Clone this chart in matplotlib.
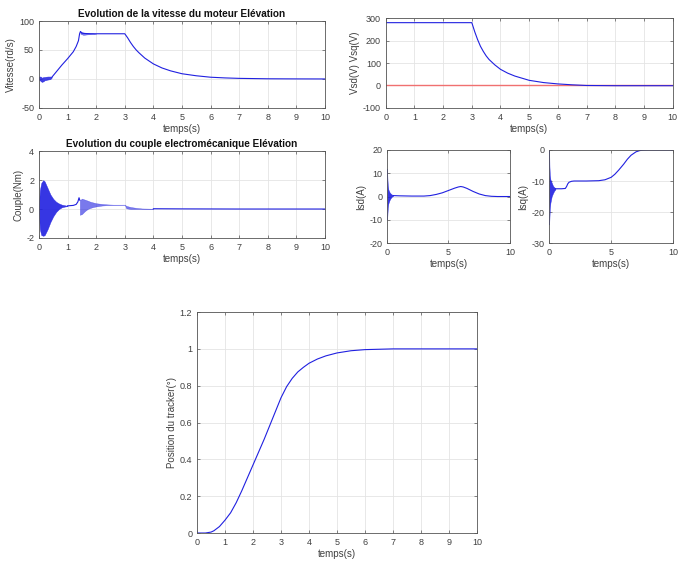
import matplotlib
matplotlib.use("Agg")
import matplotlib.pyplot as plt
import numpy as np

plt.rcParams['font.family'] = ['Liberation Sans', 'DejaVu Sans']
plt.rcParams['axes.unicode_minus'] = False

# ---------------- data ----------------
# Vitesse (rd/s)
vit_t = [0.45, 0.6, 0.8, 1.0, 1.2, 1.3, 1.38, 1.42, 1.45, 1.5, 1.6, 1.8, 2.0, 2.5, 3.0,
         3.1, 3.2, 3.3, 3.4, 3.5, 3.7, 4.0, 4.3, 4.6, 5.0, 5.5, 6.0, 6.5, 7.0, 8.0, 9.0, 10.0]
vit_v = [3, 12, 24, 35, 47, 56, 66, 78, 82, 79, 78.5, 78, 78, 78, 78,
         71, 63, 56, 50, 45, 36, 26, 19, 14, 9, 5.5, 3, 1.8, 1.0, 0.3, 0.1, 0.0]
vit_osc_t = [0.0, 0.05, 0.1, 0.15, 0.2, 0.3, 0.4, 0.45]
vit_osc_hi = [4, 4, 2, 3, 3, 4, 4, 3]
vit_osc_lo = [-1, -3, -5, -4, -2, -1, 0, 3]
vit_osc2_t = [1.45, 1.55, 1.7, 1.85, 2.0]
vit_osc2_hi = [82, 80, 79.5, 79, 78]
vit_osc2_lo = [78, 76, 77, 77.5, 78]

# Vsd / Vsq (V)
vsq_t = [0, 3.0, 3.1, 3.2, 3.3, 3.4, 3.5, 3.6, 3.8, 4.0, 4.25, 4.5, 5.0, 5.5, 6.0, 6.5, 7.0, 8.0, 10.0]
vsq_v = [280, 280, 240, 205, 175, 152, 132, 116, 92, 72, 55, 42, 23, 13, 7, 3, 0, -1, -1]
vsd_t = [0, 10]
vsd_v = [0, 0]

# Couple (Nm)
cp_env_t = [0.0, 0.03, 0.08, 0.15, 0.2, 0.3, 0.4, 0.5, 0.6, 0.7, 0.8, 0.9, 1.0]
cp_env_hi = [0.2, 1.3, 1.8, 2.0, 1.9, 1.45, 1.0, 0.7, 0.5, 0.38, 0.3, 0.26, 0.22]
cp_env_lo = [-0.2, -1.4, -1.8, -1.85, -1.8, -1.4, -0.9, -0.5, -0.2, 0.0, 0.12, 0.17, 0.2]
cp_t = [1.0, 1.2, 1.3, 1.36, 1.4, 1.43]
cp_v = [0.22, 0.25, 0.32, 0.5, 0.78, 0.6]
cp_env2_t = [1.43, 1.5, 1.6, 1.7, 1.8, 1.9, 2.0, 2.2, 2.4, 2.6, 3.0]
cp_env2_hi = [0.6, 0.72, 0.65, 0.58, 0.5, 0.45, 0.4, 0.35, 0.32, 0.3, 0.3]
cp_env2_lo = [-0.4, -0.35, -0.15, 0.0, 0.08, 0.14, 0.18, 0.24, 0.27, 0.29, 0.3]
cp_env3_t = [3.0, 3.05, 3.2, 3.4, 3.6, 4.0]
cp_env3_hi = [0.3, 0.22, 0.14, 0.08, 0.04, 0.02]
cp_env3_lo = [0.3, 0.05, 0.0, 0.0, 0.0, 0.0]
cp_t2 = [4.0, 5.0, 6.0, 7.0, 8.0, 10.0]
cp_v2 = [0.02, 0.01, 0.005, 0.0, 0.0, 0.0]

# Isd (A)
isd_env_t = [0.0, 0.02, 0.05, 0.1, 0.2, 0.3, 0.4, 0.5]
isd_env_hi = [12, 8, 5, 3, 1.8, 1.2, 0.8, 0.5]
isd_env_lo = [-10, -8, -5, -3, -1.5, -0.6, 0.0, 0.3]
isd_t = [0.5, 1.0, 2.0, 3.0, 3.5, 4.0, 4.5, 5.0, 5.5, 5.8, 6.0, 6.2, 6.5, 7.0, 7.5, 8.0, 8.5, 9.0, 10.0]
isd_v = [0.4, 0.3, 0.2, 0.2, 0.4, 0.9, 1.6, 2.6, 3.6, 4.1, 4.3, 4.1, 3.5, 2.2, 1.1, 0.4, 0.1, 0.0, 0.0]

# Isq (A)
isq_env_t = [0.0, 0.02, 0.05, 0.1, 0.2, 0.3, 0.4, 0.5]
isq_env_hi = [0, -5, -8, -9.5, -10.5, -11.5, -12, -12.3]
isq_env_lo = [-24, -22, -19, -17, -15, -14, -13.2, -12.7]
isq_t = [0.5, 1.0, 1.3, 1.4, 1.5, 1.6, 1.8, 2.0, 3.0, 4.0, 4.5, 5.0, 5.3, 5.6, 6.0, 6.3, 6.6, 7.0, 7.3, 7.6, 8.0, 9.0, 10.0]
isq_v = [-12.5, -12.5, -12.4, -11.8, -10.9, -10.4, -10.1, -10.0, -10.0, -9.9, -9.6, -8.8, -7.8, -6.5, -4.6, -3.0, -1.7, -0.6, -0.2, -0.05, 0.0, 0.0, 0.0]

# Position du tracker
pos_t = [0, 0.3, 0.5, 0.6, 0.8, 1.0, 1.2, 1.4, 1.6, 1.8, 2.0, 2.2, 2.4, 2.6, 2.8, 3.0, 3.2, 3.4,
         3.6, 3.8, 4.0, 4.3, 4.6, 5.0, 5.5, 6.0, 6.5, 7.0, 8.0, 9.0, 10.0]
pos_v = [0, 0, 0.005, 0.012, 0.035, 0.07, 0.11, 0.165, 0.23, 0.3, 0.37, 0.44, 0.51, 0.585, 0.66, 0.735,
         0.795, 0.84, 0.875, 0.9, 0.922, 0.945, 0.962, 0.978, 0.99, 0.996, 0.998, 1.0, 1.0, 1.0, 1.0]

# ---------------- style ----------------
BLUE = '#2020e0'
RED = '#f07070'
TXT = '#404040'
TS = 6.5
LS = 7.0

fig = plt.figure(figsize=(6.78, 5.68), dpi=100)


def style(ax, xt, yt, xlim, ylim, ylabel, title=None):
    ax.set_xlim(*xlim)
    ax.set_ylim(*ylim)
    ax.set_xticks(xt)
    ax.set_yticks(yt)
    ax.grid(True, color='#e4e4e4', linewidth=0.6)
    ax.set_axisbelow(True)
    for s in ax.spines.values():
        s.set_color('#555555')
        s.set_linewidth(0.6)
    ax.tick_params(direction='in', length=2.5, width=0.5, labelsize=TS, colors='#555555',
                   labelcolor=TXT, top=True, right=True, pad=3.5)
    ax.set_xlabel('temps(s)', fontsize=LS, color=TXT, labelpad=1.5)
    ax.set_ylabel(ylabel, fontsize=LS, color=TXT, labelpad=2)
    if title:
        ax.set_title(title, fontsize=7.2, fontweight='bold', color='#111111', pad=3)


# Panel 1
ax1 = fig.add_axes([0.0575, 0.810, 0.4218, 0.153])
ax1.fill_between(vit_osc_t, vit_osc_lo, vit_osc_hi, color=BLUE, alpha=0.85, linewidth=0.5)
ax1.fill_between(vit_osc2_t, vit_osc2_lo, vit_osc2_hi, color=BLUE, alpha=0.6, linewidth=0.3)
ax1.plot(vit_t, vit_v, color=BLUE, lw=0.8)
style(ax1, range(0, 11), [-50, 0, 50, 100], (0, 10), (-50, 100), 'Vitesse(rd/s)',
      'Evolution de la vitesse du moteur Elévation')

# Panel 2
ax2 = fig.add_axes([0.569, 0.810, 0.423, 0.158])
ax2.plot(vsd_t, vsd_v, color=RED, lw=1.0)
ax2.plot(vsq_t, vsq_v, color=BLUE, lw=0.8)
style(ax2, range(0, 11), [-100, 0, 100, 200, 300], (0, 10), (-100, 300), 'Vsd(V) Vsq(V)')

# Panel 3
ax3 = fig.add_axes([0.0575, 0.581, 0.4218, 0.153])
ax3.fill_between(cp_env_t, cp_env_lo, cp_env_hi, color=BLUE, alpha=0.9, linewidth=0.3)
ax3.plot(cp_t, cp_v, color=BLUE, lw=0.8)
ax3.fill_between(cp_env2_t, cp_env2_lo, cp_env2_hi, color=BLUE, alpha=0.6, linewidth=0.3)
ax3.fill_between(cp_env3_t, cp_env3_lo, cp_env3_hi, color=BLUE, alpha=0.6, linewidth=0.3)
ax3.plot(cp_t2, cp_v2, color=BLUE, lw=0.8)
style(ax3, range(0, 11), [-2, 0, 2, 4], (0, 10), (-2, 4), 'Couple(Nm)',
      'Evolution du couple electromécanique Elévation')

# Panel 4a
ax4 = fig.add_axes([0.571, 0.572, 0.181, 0.164])
ax4.fill_between(isd_env_t, isd_env_lo, isd_env_hi, color=BLUE, alpha=0.9, linewidth=0.3)
ax4.plot(isd_t, isd_v, color=BLUE, lw=0.8)
style(ax4, [0, 5, 10], [-20, -10, 0, 10, 20], (0, 10), (-20, 20), 'Isd(A)')

# Panel 4b
ax5 = fig.add_axes([0.810, 0.572, 0.183, 0.164])
ax5.fill_between(isq_env_t, isq_env_lo, isq_env_hi, color=BLUE, alpha=0.9, linewidth=0.3)
ax5.plot(isq_t, isq_v, color=BLUE, lw=0.8)
style(ax5, [0, 5, 10], [-30, -20, -10, 0], (0, 10), (-30, 0), 'Isq(A)')

# Panel 5
ax6 = fig.add_axes([0.2906, 0.0616, 0.413, 0.389])
ax6.plot(pos_t, pos_v, color=BLUE, lw=0.8)
style(ax6, range(0, 11), [0, 0.2, 0.4, 0.6, 0.8, 1, 1.2], (0, 10), (0, 1.2), 'Position du tracker(°)')
ax6.set_yticklabels(['0', '0.2', '0.4', '0.6', '0.8', '1', '1.2'])

fig.savefig('out.png', dpi=100)
